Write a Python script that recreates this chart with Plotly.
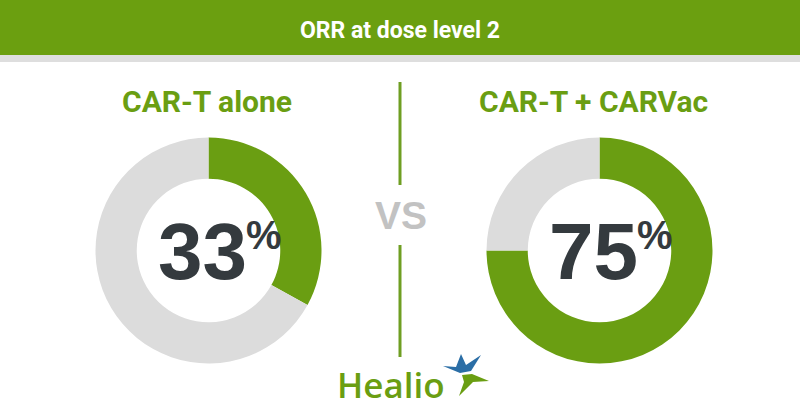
import plotly.graph_objects as go

# ---- data ----
header_title = "ORR at dose level 2"
groups = ["CAR-T alone", "CAR-T + CARVac"]
orr_pct = [33, 75]
versus_label = "VS"
brand = "Healio"

# ---- styling ----
W, H = 800, 420
GREEN = "#6a9e12"
RING_GRAY = "#dcdcdc"
DARK = "#343a3e"
VS_GRAY = "#c2c2c2"

def px(x):
    return x / W

def py(y):
    return 1 - y / H

centers_x = [208.5, 599.5]
center_y = 250.5
outer_r = 113

fig = go.Figure()

for i, (g, v) in enumerate(zip(groups, orr_pct)):
    cx = centers_x[i]
    fig.add_trace(go.Pie(
        values=[v, 100 - v],
        labels=["Response", "No response"],
        sort=False,
        direction="clockwise",
        rotation=0,
        hole=0.635,
        marker=dict(colors=[GREEN, RING_GRAY], line=dict(width=0)),
        textinfo="none",
        hoverinfo="skip",
        showlegend=False,
        domain=dict(x=[px(cx - outer_r), px(cx + outer_r)],
                    y=[py(center_y + outer_r), py(center_y - outer_r)]),
    ))

shapes = [
    dict(type="rect", xref="paper", yref="paper", x0=0, x1=1, y0=py(55), y1=1,
         fillcolor="#6b9f10", line=dict(width=0), layer="below"),
    dict(type="rect", xref="paper", yref="paper", x0=0, x1=1, y0=py(62), y1=py(55),
         fillcolor="#dedede", line=dict(width=0), layer="below"),
    dict(type="line", xref="paper", yref="paper", x0=px(400), x1=px(400), y0=py(82), y1=py(185),
         line=dict(color="#6f9e22", width=3)),
    dict(type="line", xref="paper", yref="paper", x0=px(400), x1=px(400), y0=py(245), y1=py(357),
         line=dict(color="#6f9e22", width=3)),
]

def path_px(points):
    parts = []
    for j, (x, y) in enumerate(points):
        parts.append(("M" if j == 0 else "L") + f"{px(x):.5f},{py(y):.5f}")
    return " ".join(parts) + " Z"

# logo star (decorative)
blue_star = [(443, 366), (456, 367), (461, 354), (466, 365), (481, 355), (471, 371), (460, 373)]
green_star = [(462, 375), (472, 374), (489, 381), (473, 382), (459, 396), (464, 382)]
shapes.append(dict(type="path", xref="paper", yref="paper", path=path_px(blue_star),
                   fillcolor="#2b6ea6", line=dict(width=0)))
shapes.append(dict(type="path", xref="paper", yref="paper", path=path_px(green_star),
                   fillcolor=GREEN, line=dict(width=0)))

annotations = [
    dict(text=f"<b>{header_title}</b>", x=0.5, y=py(31), xref="paper", yref="paper",
         showarrow=False, xanchor="center", yanchor="middle",
         font=dict(family="Roboto", size=23, color="white")),
    dict(text=f"<b>{versus_label}</b>", x=px(401), y=py(216), xref="paper", yref="paper",
         showarrow=False, xanchor="center", yanchor="middle",
         font=dict(family="Liberation Sans", size=39, color=VS_GRAY)),
    dict(text=brand, x=px(391), y=py(384), xref="paper", yref="paper",
         showarrow=False, xanchor="center", yanchor="middle",
         font=dict(family="Open Sans", size=35, color=GREEN, weight=600)),
]

title_centers = [206.5, 593.5]
for i, (g, v) in enumerate(zip(groups, orr_pct)):
    cx = centers_x[i]
    annotations.append(dict(text=f"<b>{g}</b>", x=px(title_centers[i]), y=py(101),
                            xref="paper", yref="paper", showarrow=False,
                            xanchor="center", yanchor="middle",
                            font=dict(family="Roboto", size=30, color=GREEN)))
    annotations.append(dict(text=f"<b>{v}</b>", x=px(cx + 40), y=py(251),
                            xref="paper", yref="paper", showarrow=False,
                            xanchor="right", yanchor="middle",
                            font=dict(family="Liberation Sans", size=80, color=DARK)))
    annotations.append(dict(text="<b>%</b>", x=px(cx + 35), y=py(235),
                            xref="paper", yref="paper", showarrow=False,
                            xanchor="left", yanchor="middle",
                            font=dict(family="Liberation Sans", size=40, color=DARK)))

fig.update_layout(
    width=W, height=H,
    margin=dict(l=0, r=0, t=0, b=0),
    paper_bgcolor="white", plot_bgcolor="white",
    shapes=shapes, annotations=annotations,
)

fig.write_html("out.html", config={"displayModeBar": False})
